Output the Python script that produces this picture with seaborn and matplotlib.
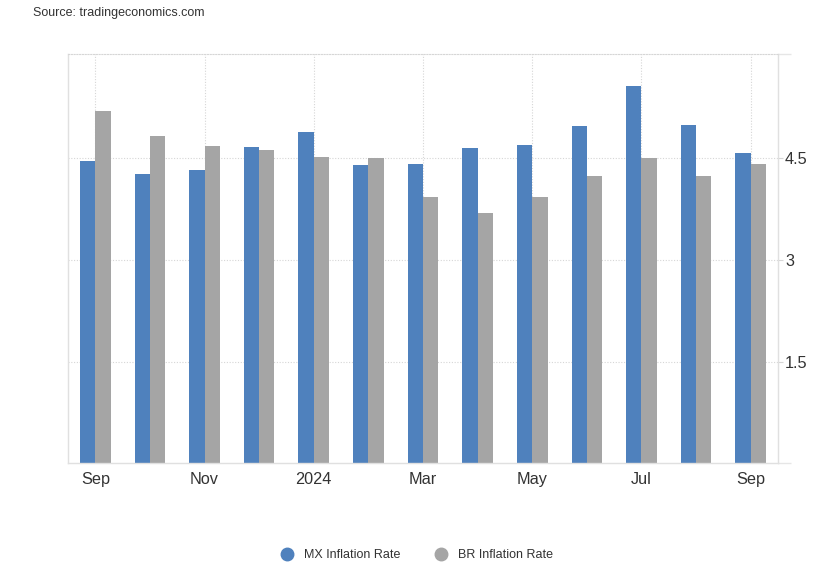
import matplotlib
matplotlib.use("Agg")
import matplotlib.pyplot as plt
from matplotlib.lines import Line2D
import seaborn as sns
import pandas as pd

months = ["2023-09", "2023-10", "2023-11", "2023-12", "2024-01", "2024-02", "2024-03",
          "2024-04", "2024-05", "2024-06", "2024-07", "2024-08", "2024-09"]
mx_values = [4.45, 4.26, 4.32, 4.66, 4.88, 4.40, 4.42, 4.65, 4.69, 4.98, 5.57, 4.99, 4.58]
br_values = [5.19, 4.82, 4.68, 4.62, 4.51, 4.50, 3.93, 3.69, 3.93, 4.23, 4.50, 4.24, 4.42]
series_names = ["MX Inflation Rate", "BR Inflation Rate"]
tick_positions = [0, 2, 4, 6, 8, 10, 12]
tick_labels = ["Sep", "Nov", "2024", "Mar", "May", "Jul", "Sep"]
y_ticks = [1.5, 3, 4.5]
y_tick_labels = ["1.5", "3", "4.5"]

colors = ["#4F81BD", "#A5A5A5"]

df = pd.DataFrame({
    "month": months * 2,
    "series": [series_names[0]] * len(months) + [series_names[1]] * len(months),
    "value": mx_values + br_values,
})

sns.set_theme(style="white")
plt.rcParams["font.family"] = ["Liberation Sans", "DejaVu Sans"]

fig = plt.figure(figsize=(8.3, 5.67), dpi=100)
ax = fig.add_axes([68 / 830, 1 - 463.3 / 567, (778 - 68) / 830, (463.3 - 54.3) / 567])

sns.barplot(data=df, x="month", y="value", hue="series", order=months,
            hue_order=series_names, palette=colors, width=0.56, gap=0,
            saturation=1, linewidth=0, legend=False, ax=ax)

ax.set_xlim(-0.5, 12.5)
ax.set_ylim(0, 6.03)
ax.set_xlabel("")
ax.set_ylabel("")

ax.set_xticks(tick_positions)
ax.set_xticklabels(tick_labels)
ax.yaxis.tick_right()
ax.set_yticks(y_ticks)
ax.set_yticklabels(y_tick_labels)
ax.set_yticks([0, 6.03], minor=True)
ax.tick_params(axis="x", length=0, pad=6, labelsize=11.7, labelcolor="#333333")
ax.tick_params(axis="y", which="major", length=3.5, width=0.8, color="#d6d6d6",
               pad=1.5, labelsize=11.7, labelcolor="#333333")
ax.tick_params(axis="y", which="minor", length=9, width=1.0, color="#e6e6e6")

grid_kw = dict(color="#d6d6d6", linestyle=(0, (1, 1.5)), linewidth=0.8, zorder=0)
for y in y_ticks:
    ax.axhline(y, **grid_kw)
for x in tick_positions:
    ax.axvline(x, **grid_kw)
ax.set_axisbelow(True)

for side in ["left", "right", "bottom"]:
    ax.spines[side].set_color("#e0e0e0")
    ax.spines[side].set_linewidth(1.0)
    ax.spines[side].set_visible(True)
ax.spines["top"].set_color("#d6d6d6")
ax.spines["top"].set_linestyle((0, (1, 1.5)))
ax.spines["top"].set_linewidth(0.8)

fig.text(33 / 830, 1 - 13 / 567, "Source: tradingeconomics.com", fontsize=9,
         color="#333333", va="center", ha="left")

handles = [Line2D([], [], marker="o", linestyle="", markersize=9,
                  markerfacecolor=c, markeredgecolor=c) for c in colors]
fig.legend(handles, series_names, loc="center", bbox_to_anchor=(0.5024, 1 - 555 / 567),
           ncol=2, frameon=False, fontsize=9, handlelength=1.0, handletextpad=0.85,
           columnspacing=2.8, labelcolor="#333333")

fig.savefig("out.png", dpi=100)
